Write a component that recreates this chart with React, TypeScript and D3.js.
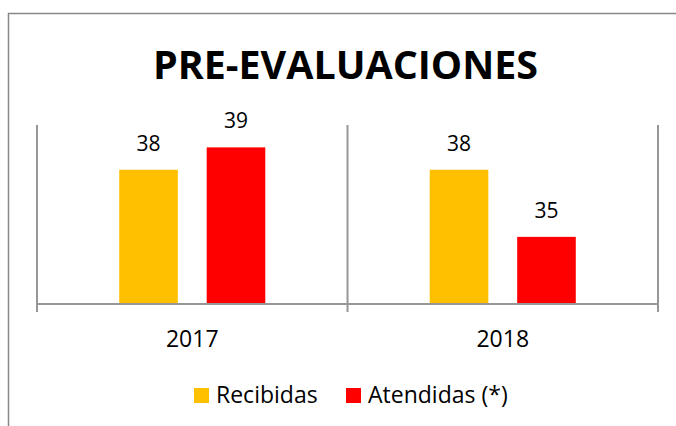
import React from "react";
import * as d3 from "d3";

const categories = ["2017", "2018"];
const series = ["Recibidas", "Atendidas (*)"];
const recibidas = [38, 38];
const atendidas = [39, 35];
const seriesColors = ["#FFC000", "#FF0000"];
const yDomain = [32, 40];

const title = "PRE-EVALUACIONES";
const font = "'Open Sans', 'Noto Sans', sans-serif";

const App = () => {
  const width = 676;
  const height = 426;
  const left = 37;
  const right = 658;
  const top = 125;
  const bottom = 304;

  const values = [recibidas, atendidas];

  // category bands along the axis
  const xScale = d3.scaleBand().domain(categories).range([left, right]).padding(0);

  // bars inside each category
  const xInner = d3
    .scaleBand()
    .domain(series)
    .range([0, xScale.bandwidth()])
    .paddingInner(0.33)
    .paddingOuter(0.94);

  const yScale = d3.scaleLinear().domain(yDomain).range([bottom, top]);

  const gridX = [...categories.map((c) => xScale(c)), right];

  // legend layout
  const legendX = [194, 346];
  const legendY = 388;

  return (
    <svg
      width={width}
      height={height}
      style={{ position: "absolute", left: 0, top: 0, background: "#fff" }}
    >
      <rect x={0} y={0} width={width} height={height} fill="#fff" />
      {/* chart border */}
      <rect
        x={8.5}
        y={13.5}
        width={width + 20}
        height={height + 20}
        fill="none"
        stroke="#888"
        strokeWidth={1.5}
      />

      <text
        x={(left + right) / 2 - 2}
        y={78.5}
        textAnchor="middle"
        fontFamily={font}
        fontWeight="bold"
        fontSize={39}
        textLength={385}
        lengthAdjust="spacingAndGlyphs"
        fill="#000"
      >
        {title}
      </text>

      {/* category separators / ticks */}
      {gridX.map((gx, i) => (
        <line
          key={i}
          x1={gx}
          x2={gx}
          y1={top}
          y2={bottom + 8}
          stroke="#979797"
          strokeWidth={2}
        />
      ))}
      <line x1={left} x2={right} y1={bottom} y2={bottom} stroke="#979797" strokeWidth={2} />

      {/* bars */}
      {categories.map((c, ci) =>
        series.map((s, si) => {
          const v = values[si][ci];
          const bx = (xScale(c) as number) + (xInner(s) as number);
          const by = yScale(v);
          return (
            <g key={c + s}>
              <rect
                x={bx}
                y={by}
                width={xInner.bandwidth()}
                height={bottom - 1 - by}
                fill={seriesColors[si]}
              />
              <text
                x={bx + xInner.bandwidth() / 2}
                y={by - 19}
                textAnchor="middle"
                fontFamily={font}
                fontSize={21}
                fill="#000"
              >
                {v}
              </text>
            </g>
          );
        })
      )}

      {/* category labels */}
      {categories.map((c) => (
        <text
          key={c}
          x={(xScale(c) as number) + xScale.bandwidth() / 2}
          y={346.5}
          textAnchor="middle"
          fontFamily={font}
          fontSize={23}
          fill="#000"
        >
          {c}
        </text>
      ))}

      {/* legend */}
      {series.map((s, i) => (
        <g key={s} transform={`translate(${legendX[i]}, ${legendY})`}>
          <rect x={0} y={0} width={15} height={15} fill={seriesColors[i]} />
          <text x={22} y={15} fontFamily={font} fontSize={23} fill="#000">
            {s}
          </text>
        </g>
      ))}
    </svg>
  );
};

export default App;
